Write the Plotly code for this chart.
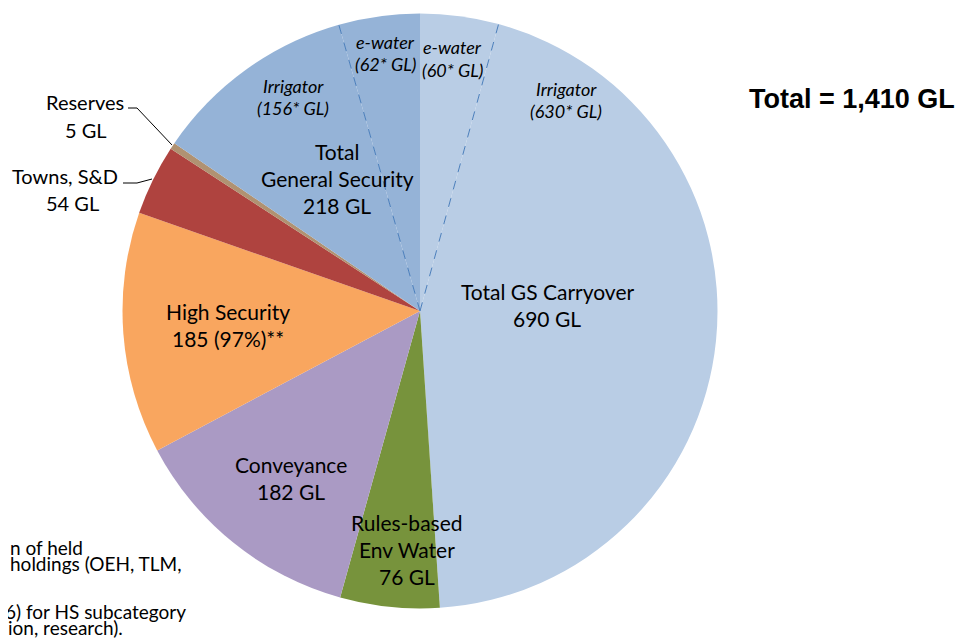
import plotly.graph_objects as go
import math

# page body adds an 8px margin; canvas sized to fill the rest of the window
OFF = 8
W, H = 965 - OFF, 639 - OFF

# ---- data ----
slice_names = ["GS Carryover e-water", "GS Carryover Irrigator", "Rules-based Env Water",
               "Conveyance", "High Security", "Towns, S&D", "Reserves",
               "General Security Irrigator", "General Security e-water"]
slice_values = [60, 630, 76, 182, 185, 54, 5, 156, 62]
slice_colors = ["#B9CDE5", "#B9CDE5", "#77933C", "#AA9AC4", "#F9A65F",
                "#AF433F", "#B09272", "#95B3D7", "#95B3D7"]
gs_carryover_total = 690
gs_total = 218
high_security_pct = 97
total_gl = 1410

# ---- pie geometry (window pixels) ----
CX, CY, R = 420 - OFF, 311 - OFF, 297.5
dom_x = [(CX - R) / W, (CX + R) / W]
dom_y = [1 - (CY + R) / H, 1 - (CY - R) / H]

fig = go.Figure(go.Pie(
    labels=slice_names, values=slice_values, sort=False, direction="clockwise",
    rotation=0, marker=dict(colors=slice_colors, line=dict(width=0)),
    textinfo="none", hoverinfo="label+value", showlegend=False,
    domain=dict(x=dom_x, y=dom_y),
))

def px(x, y):
    # x, y in window pixels
    return (x - OFF) / W, 1 - (y - OFF) / H

def cpx(x, y):
    # x, y in canvas pixels
    return x / W, 1 - y / H

# dashed separators (computed from data)
tot = sum(slice_values)
cum = 0
bounds = []
for v in slice_values:
    cum += v
    bounds.append(cum)
for b in [bounds[0], bounds[7]]:
    th = 2 * math.pi * b / tot
    x0, y0 = cpx(CX, CY)
    x1, y1 = cpx(CX + R * math.sin(th), CY - R * math.cos(th))
    fig.add_shape(type="line", xref="paper", yref="paper", x0=x0, y0=y0, x1=x1, y1=y1,
                  line=dict(color="#4A7EBB", width=1, dash="dash"))

FONT = "Lato"
def label(x, y, text, size=21, italic=False, anchor="center", color="#000", family=FONT, bold=False):
    ax, ay = px(x, y)
    if italic:
        text = f"<i>{text}</i>"
    if bold:
        text = f"<b>{text}</b>"
    fig.add_annotation(x=ax, y=ay, xref="paper", yref="paper", text=text, showarrow=False,
                       xanchor=anchor, yanchor="middle",
                       font=dict(family=family, size=size, color=color))

LS = 27
label(547, 291, "Total GS Carryover")
label(547, 291 + LS, f"{gs_carryover_total} GL")
label(407, 522, "Rules-based")
label(407, 522 + LS, "Env Water")
label(407, 522 + 2 * LS, f"{slice_values[2]} GL")
label(291, 464, "Conveyance")
label(291, 464 + LS, f"{slice_values[3]} GL")
label(228, 311, "High Security")
label(228, 311 + LS, f"{slice_values[4]} ({high_security_pct}%)**")
label(337, 151, "Total")
label(337, 151 + LS, "General Security")
label(337, 151 + 2 * LS, f"{gs_total} GL")

IS = 18
label(293, 86, "Irrigator", size=IS, italic=True)
label(293, 108, f"({slice_values[7]}* GL)", size=IS, italic=True)
label(385, 42, "e-water", size=IS, italic=True)
label(385, 64, f"({slice_values[8]}* GL)", size=IS, italic=True)
label(452, 47, "e-water", size=IS, italic=True)
label(452, 70, f"({slice_values[0]}* GL)", size=IS, italic=True)
label(566, 89, "Irrigator", size=IS, italic=True)
label(566, 111, f"({slice_values[1]}* GL)", size=IS, italic=True)

SS = 20
label(126, 102, "Reserves", size=SS, anchor="right")
label(86, 130, f"{slice_values[6]} GL", size=SS)
label(120, 176, "Towns, S&D", size=SS, anchor="right")
label(72, 203, f"{slice_values[5]} GL", size=SS)

# leader lines
def seg(xa, ya, xb, yb):
    a = px(xa, ya); b = px(xb, yb)
    fig.add_shape(type="line", xref="paper", yref="paper", x0=a[0], y0=a[1], x1=b[0], y1=b[1],
                  line=dict(color="#000", width=1))
seg(128, 108, 137, 108); seg(137, 108, 172, 145)
seg(123, 183, 137, 183); seg(137, 183, 152, 179)

label(852, 99, f"Total = {total_gl:,} GL", size=27, family="Liberation Sans, Arial", bold=True)

FS = 19
label(OFF, 547, "n of held", size=FS, anchor="left")
label(OFF, 563, "holdings (OEH, TLM,", size=FS, anchor="left")
label(OFF - 5, 611, "6) for HS subcategory", size=FS, anchor="left")
label(OFF - 2, 627, "ion, research).", size=FS, anchor="left")

fig.update_layout(width=W, height=H, margin=dict(l=0, r=0, t=0, b=0),
                  paper_bgcolor="white", plot_bgcolor="white")
fig.write_html("out.html")
